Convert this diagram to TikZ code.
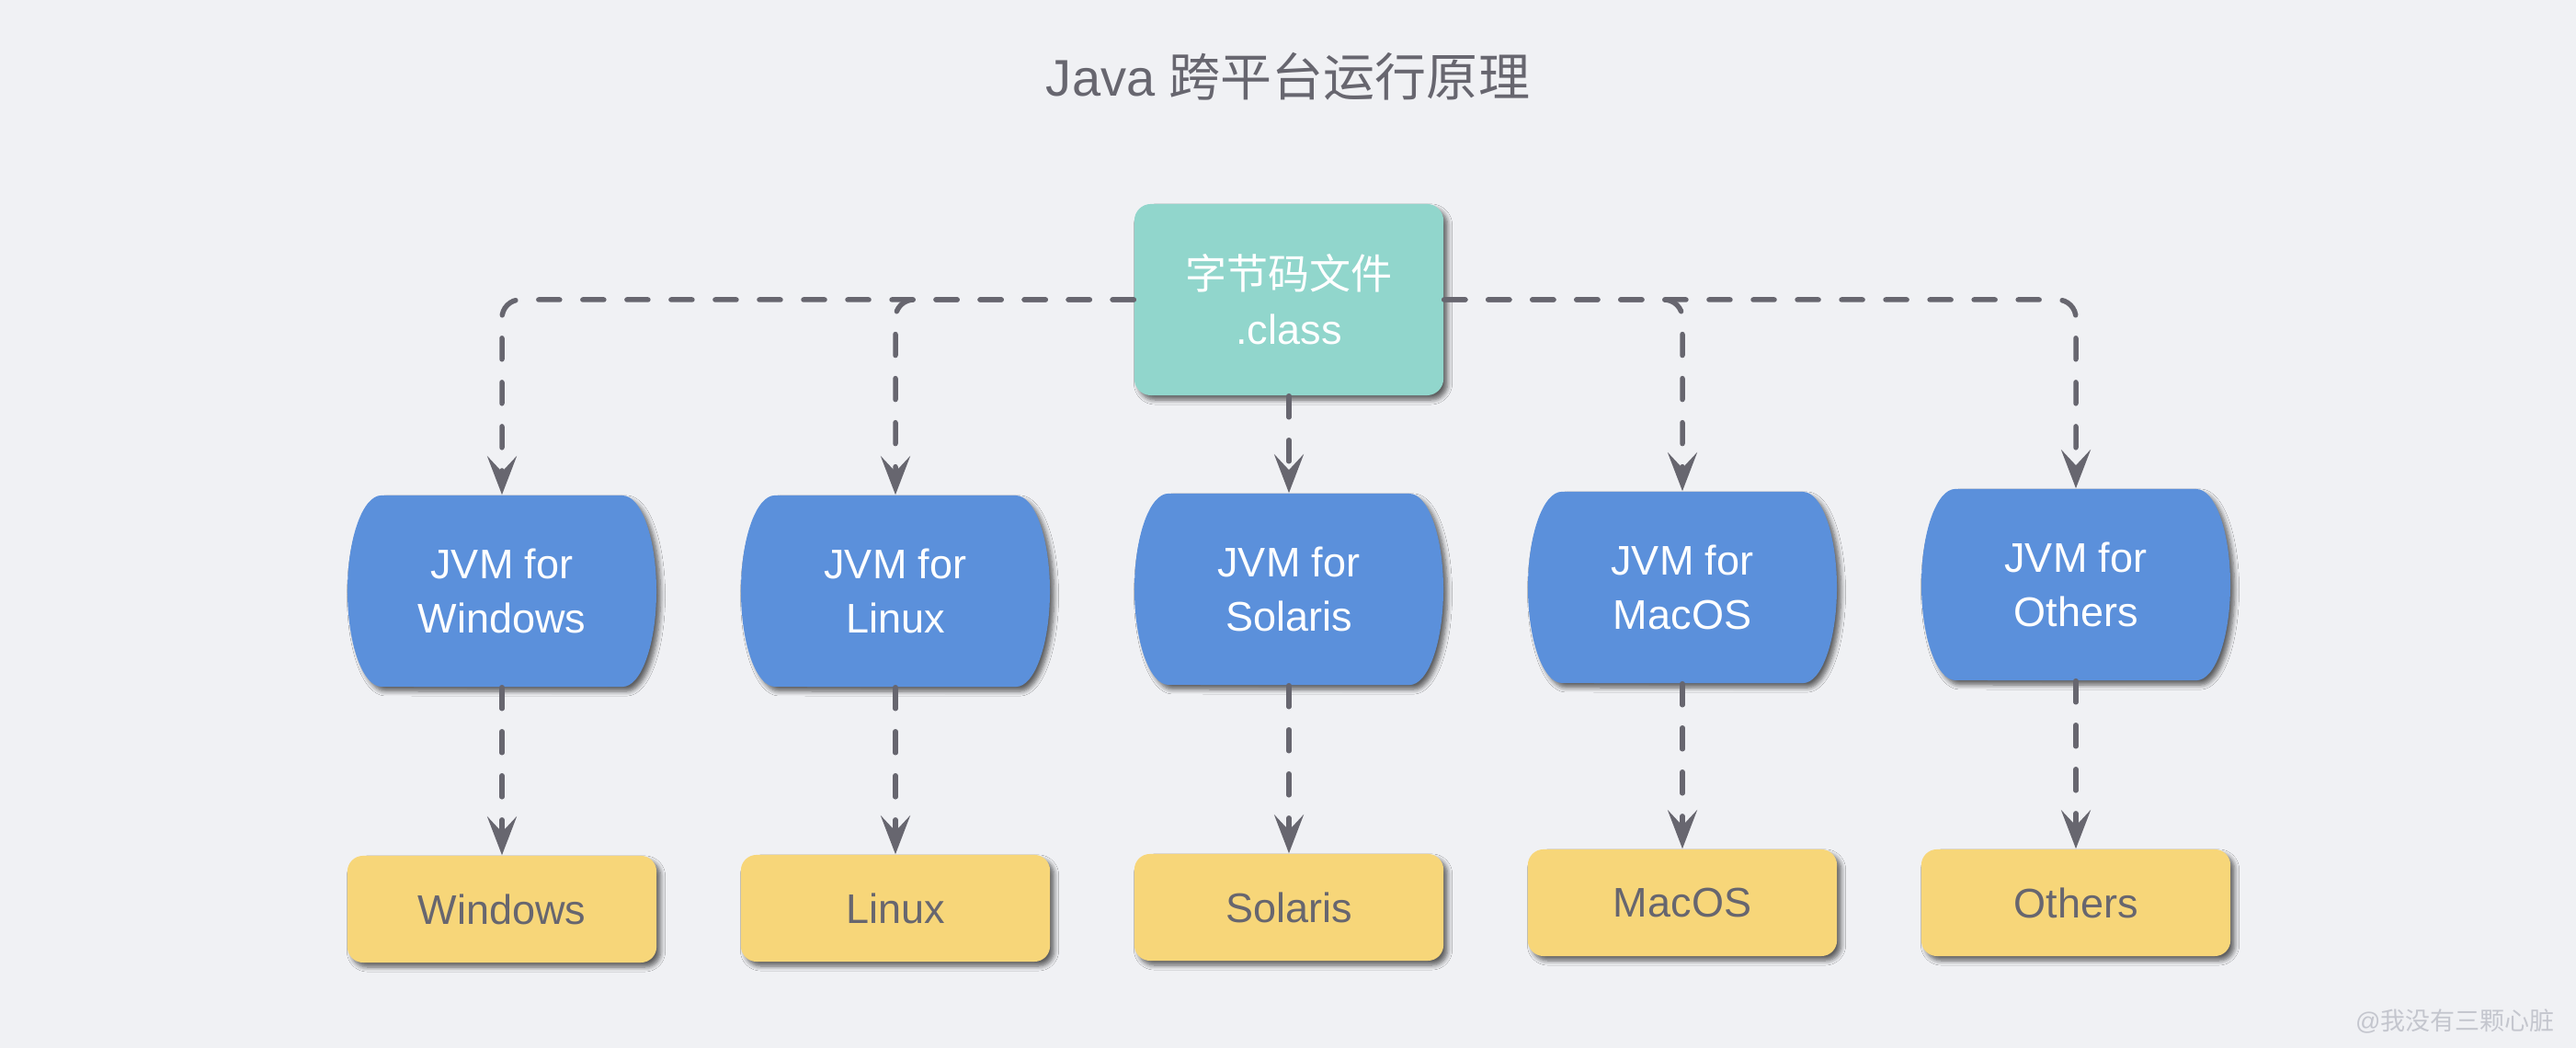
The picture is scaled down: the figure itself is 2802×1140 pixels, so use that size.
\documentclass[tikz,border=0pt]{standalone}
\usepackage{fontspec}
\setmainfont{Liberation Sans}
\newfontfamily\cjk{Noto Sans CJK SC}
\usetikzlibrary{arrows.meta,shadows.blur}
\definecolor{bgc}{HTML}{F0F1F4}
\definecolor{ink}{HTML}{67666F}
\definecolor{clsfill}{HTML}{91D6CC}
\definecolor{jvmblue}{HTML}{5B90DB}
\definecolor{osyellow}{HTML}{F7D679}
\definecolor{wmark}{HTML}{C4C6CE}
\tikzset{
  boxshadow/.style={blur shadow={shadow xshift=0.045cm, shadow yshift=-0.05cm, shadow blur radius=0.05cm, shadow blur steps=6, shadow opacity=60}},
  bodyfont/.style={font=\fontsize{12.8}{17}\selectfont},
  clsbox/.style={bodyfont, rectangle, rounded corners=0.18cm, fill=clsfill, boxshadow, text=white, align=center,
    minimum width=3.36cm, minimum height=2.08cm, inner sep=0pt},
  jvmtext/.style={bodyfont, rectangle, text=white, align=center, minimum width=3.36cm, minimum height=2.08cm, inner sep=0pt},
  jvmfill/.style={fill=jvmblue, boxshadow},
  osbox/.style={bodyfont, rectangle, rounded corners=0.17cm, fill=osyellow, boxshadow, text=ink,
    minimum width=3.36cm, minimum height=1.16cm, inner sep=0pt},
  conn/.style={draw=ink, line width=0.055cm, line cap=round, dash pattern=on 0.23cm off 0.25cm,
    rounded corners=0.2cm, -{Stealth[length=0.42cm, width=0.32cm, inset=0.17cm]}},
}
\newcommand\jvmnode[4]{%
  \fill[jvmfill] ({#2-131},{#3+104}) -- ({#2+131},{#3+104})
    arc[start angle=90, end angle=-90, x radius=0.37cm, y radius=1.04cm]
    -- ({#2-131},{#3-104})
    arc[start angle=270, end angle=90, x radius=0.37cm, y radius=1.04cm] -- cycle;
  \node[jvmtext] (#1) at (#2,#3) {#4};
}
\begin{document}
\begin{tikzpicture}[x=0.01cm, y=0.01cm]
\fill[bgc] (0,0) rectangle (2802,1140);
\useasboundingbox (0,0) rectangle (2802,1140);

\node[anchor=base, text=ink, font=\fontsize{15.93}{19}\selectfont] (title) at (1401,1035) {Java {\cjk 跨平台运行原理}};

\node[clsbox] (cls) at (1402,814) {{\cjk 字节码文件}\\.class};

\jvmnode{wj}{546}{497}{JVM for\\Windows}
\jvmnode{lj}{974}{497}{JVM for\\Linux}
\jvmnode{sj}{1402}{499}{JVM for\\Solaris}
\jvmnode{mj}{1830}{501}{JVM for\\MacOS}
\jvmnode{oj}{2258}{504}{JVM for\\Others}

\node[osbox] (wo) at (546,151) {Windows};
\node[osbox] (lo) at (974,152) {Linux};
\node[osbox] (so) at (1402,153) {Solaris};
\node[osbox] (mo) at (1830,158) {MacOS};
\node[osbox] (oo) at (2258,158) {Others};

\draw[conn] (cls.west) -| (wj.north);
\draw[conn] (cls.west) -| (lj.north);
\draw[conn] (cls.south) -- (sj.north);
\draw[conn] (cls.east) -| (mj.north);
\draw[conn] (cls.east) -| (oj.north);

\draw[conn] (wj.south) -- (wo.north);
\draw[conn] (lj.south) -- (lo.north);
\draw[conn] (sj.south) -- (so.north);
\draw[conn] (mj.south) -- (mo.north);
\draw[conn] (oj.south) -- (oo.north);

\node[anchor=base east, text=wmark, font=\fontsize{7.68}{9}\selectfont] (wm) at (2791,19) {@{\cjk 我没有三颗心脏}};
\end{tikzpicture}
\end{document}
